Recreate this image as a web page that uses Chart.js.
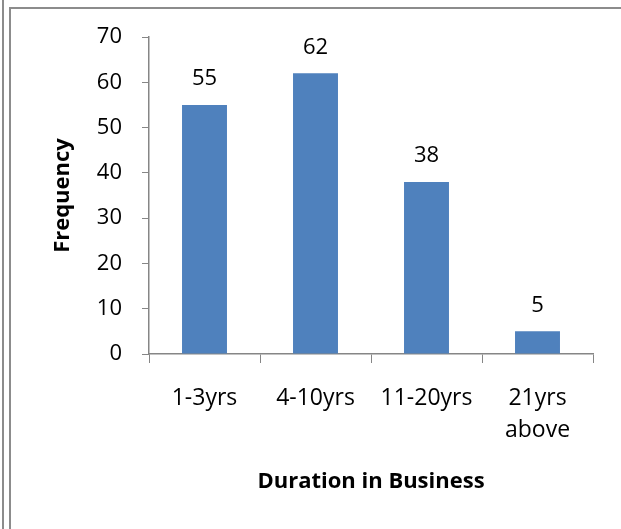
<!DOCTYPE html>
<html>
<head>
<meta charset="utf-8">
<script src="https://cdn.jsdelivr.net/npm/chart.js@4/dist/chart.umd.min.js"></script>
<style>
  html, body { margin: 0; padding: 0; background: #ffffff; }
  #wrap { position: relative; width: 621px; height: 529px; overflow: hidden; }
  .rule { position: absolute; background: #8c8c8c; }
  #outerLeft { left: 2px; top: 0; width: 2px; height: 529px; }
  #innerLeft { left: 9px; top: 7px; width: 2px; height: 522px; }
  #innerTop { left: 9px; top: 7px; width: 612px; height: 2px; }
  canvas { position: absolute; left: 0; top: 0; }
</style>
</head>
<body>
<div id="wrap">
  <div class="rule" id="outerLeft"></div>
  <div class="rule" id="innerLeft"></div>
  <div class="rule" id="innerTop"></div>
  <canvas id="chart" width="621" height="529"></canvas>
</div>
<script>
// Frequency of respondents by years in business
const categories = [["1-3yrs"], ["4-10yrs"], ["11-20yrs"], ["21yrs", "above"]];
const frequency = [55, 62, 38, 5];
const yTicks = [0, 10, 20, 30, 40, 50, 60, 70];

const axisGray = '#868686';
const textFont = "'Open Sans', 'Liberation Sans', sans-serif";

// Writes each bar's value just above it
const valueLabels = {
  id: 'valueLabels',
  afterDatasetsDraw(chart) {
    const ctx = chart.ctx;
    const meta = chart.getDatasetMeta(0);
    const values = chart.data.datasets[0].data;
    ctx.save();
    ctx.font = '22px ' + textFont;
    ctx.fillStyle = '#000000';
    ctx.textAlign = 'center';
    ctx.textBaseline = 'alphabetic';
    meta.data.forEach((bar, i) => {
      ctx.fillText(String(values[i]), bar.x, bar.y - 19.5);
    });
    ctx.restore();
  }
};

new Chart(document.getElementById('chart'), {
  type: 'bar',
  data: {
    labels: categories,
    datasets: [{
      data: frequency,
      backgroundColor: '#4f81bd',
      borderWidth: 0,
      barPercentage: 0.405,
      categoryPercentage: 1
    }]
  },
  options: {
    responsive: false,
    animation: false,
    layout: { padding: { left: 0, right: 28, top: 37, bottom: 0 } },
    plugins: {
      legend: { display: false },
      tooltip: { enabled: false }
    },
    scales: {
      x: {
        grid: {
          display: true,
          drawOnChartArea: false,
          drawTicks: true,
          tickLength: 9,
          color: axisGray,
          lineWidth: 1
        },
        border: { display: true, color: axisGray, width: 1.5 },
        ticks: {
          color: '#000000',
          padding: 19,
          maxRotation: 0,
          autoSkip: false,
          font: { family: textFont, size: 23, lineHeight: 1.4 }
        },
        title: {
          display: true,
          text: 'Duration in Business',
          color: '#000000',
          font: { family: textFont, size: 22, weight: 'bold', lineHeight: 1.2 },
          padding: { top: 0, bottom: 34 }
        },
        afterFit(scale) { scale.height = 175; }
      },
      y: {
        min: 0,
        max: 70,
        afterBuildTicks(scale) { scale.ticks = yTicks.map(v => ({ value: v })); },
        grid: {
          display: true,
          drawOnChartArea: false,
          drawTicks: true,
          tickLength: 7,
          color: axisGray,
          lineWidth: 1
        },
        border: { display: true, color: axisGray, width: 1.5 },
        ticks: {
          color: '#000000',
          padding: 20,
          font: { family: textFont, size: 22 }
        },
        title: {
          display: true,
          text: 'Frequency',
          color: '#000000',
          font: { family: textFont, size: 22, weight: 'bold', lineHeight: 1.2 },
          padding: { top: 50, bottom: 0 }
        },
        afterFit(scale) { scale.width = 149; }
      }
    }
  },
  plugins: [valueLabels]
});
</script>
</body>
</html>
